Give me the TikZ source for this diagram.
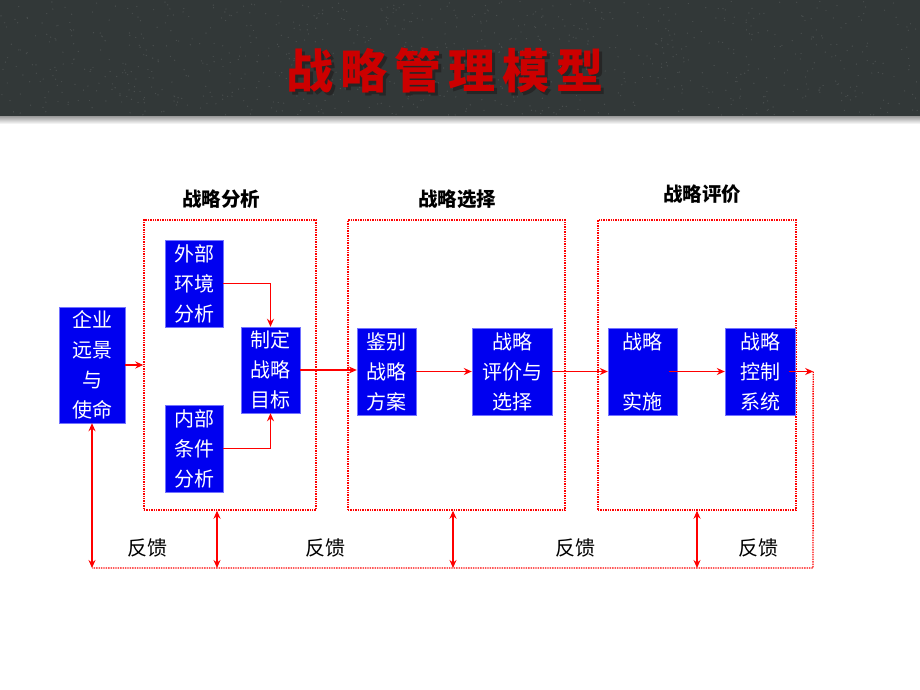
\documentclass[tikz,border=0pt]{standalone}
\usepackage{fontspec}
\newfontfamily\cjk{Noto Sans CJK SC}
\usetikzlibrary{arrows.meta}

\definecolor{boxblue}{RGB}{0,0,240}
\definecolor{linered}{RGB}{255,0,0}
\definecolor{slate}{RGB}{50,56,56}
\definecolor{titlered}{RGB}{204,0,0}

\tikzset{
  stepbox/.style={fill=boxblue, draw=blue!55!white, text=white, inner sep=0pt,
    align=center, font=\cjk\fontsize{20}{30}\selectfont},
  group/.style={draw=linered, densely dotted, line width=1.4pt, inner sep=0pt},
  flow/.style={draw=linered, line width=1.6pt, -{Stealth[length=8pt,width=7pt]}},
  feedback/.style={draw=linered, line width=1.6pt,
    {Stealth[length=8pt,width=7pt]}-{Stealth[length=8pt,width=7pt]}},
  loopline/.style={draw=linered, line width=1.4pt, densely dotted},
  grouplabel/.style={font=\cjk\bfseries\fontsize{19.5}{20}\selectfont},
  fblabel/.style={font=\cjk\fontsize{20}{20}\selectfont},
  titlechar/.style={font=\cjk\bfseries\fontsize{47}{47}\selectfont, text=titlered, inner sep=0pt},
}
\newcommand\shadowed[1]{\makebox[0pt][l]{\hspace{3pt}\raisebox{-3pt}{\color{black!85}#1}}#1}

\begin{document}
\begin{tikzpicture}[x=1pt,y=-1pt]
  \useasboundingbox (0,0) rectangle (920,690);

  % header band
  \fill[slate] (0,0) rectangle (920,117);
  \pgfmathsetseed{7}
  \foreach \k in {1,...,900}{
    \pgfmathsetmacro{\px}{rnd*918+1}
    \pgfmathsetmacro{\py}{rnd*114+1}
    \fill[gray!30!slate] (\px,\py) circle (0.7pt);
  }
  \shade[top color=gray!70, bottom color=white] (0,117) rectangle (920,124);

  % title
  \foreach \c [count=\i] in {战,略,管,理,模,型}
    \node[titlechar] (t\i) at (256+54*\i,72) {\shadowed{\c}};

  % stage groups
  \node[group, minimum width=172pt, minimum height=290pt] (analysis) at (230,365) {};
  \node[group, minimum width=217pt, minimum height=290pt] (choice) at (456.5,365) {};
  \node[group, minimum width=198pt, minimum height=290pt] (review) at (697,365) {};
  \node[grouplabel] (analysislabel) at (221,199) {战略分析};
  \node[grouplabel] (choicelabel) at (457,199) {战略选择};
  \node[grouplabel] (reviewlabel) at (702,194) {战略评价};

  % steps
  \node[stepbox, minimum width=66pt, minimum height=116pt] (vision) at (92,365) {企业\\远景\\与\\使命};
  \node[stepbox, minimum width=58pt, minimum height=87pt] (external) at (194,283.5) {外部\\环境\\分析};
  \node[stepbox, minimum width=58pt, minimum height=87pt] (internal) at (194,448.5) {内部\\条件\\分析};
  \node[stepbox, minimum width=59pt, minimum height=86pt] (goal) at (270.5,370) {制定\\战略\\目标};
  \node[stepbox, minimum width=59pt, minimum height=87pt] (identify) at (386.5,371.5) {鉴别\\战略\\方案};
  \node[stepbox, minimum width=80pt, minimum height=87pt] (evaluate) at (512,371.5) {战略\\评价与\\选择};
  \node[stepbox, minimum width=69pt, minimum height=87pt] (implement) at (642.5,371.5) {战略\\[30pt]实施};
  \node[stepbox, minimum width=70pt, minimum height=87pt] (control) at (760,371.5) {战略\\控制\\系统};

  % main flow
  \draw[flow] (vision.east) -- (analysis.west |- vision.east);
  \draw[flow] (external.east) -| (goal.north);
  \draw[flow] (internal.east) -| (goal.south);
  \draw[flow] (goal.east) -- (goal.east -| identify.west);
  \draw[flow] (identify) -- (evaluate);
  \draw[flow] (evaluate) -- (implement);
  \draw[flow] ([xshift=-8pt]implement.east) -- (control.west);
  \draw[flow] ([xshift=-6pt]control.east) -- ++(24,0) coordinate (turn);

  % feedback loop
  \coordinate (corner) at (813,568);
  \coordinate (loopend) at (vision.south |- corner);
  \draw[loopline] (turn) -- (corner) -- (loopend);
  \draw[feedback] (vision.south) -- (loopend);
  \draw[feedback] ([xshift=-13pt]analysis.south) -- ([xshift=-13pt]analysis.south |- corner);
  \draw[feedback] ([xshift=-3.5pt]choice.south) -- ([xshift=-3.5pt]choice.south |- corner);
  \draw[feedback] (review.south) -- (review.south |- corner);
  \node[fblabel] (fb1) at (147,548) {反馈};
  \node[fblabel] (fb2) at (325,548) {反馈};
  \node[fblabel] (fb3) at (575,548) {反馈};
  \node[fblabel] (fb4) at (758,548) {反馈};
\end{tikzpicture}
\end{document}
